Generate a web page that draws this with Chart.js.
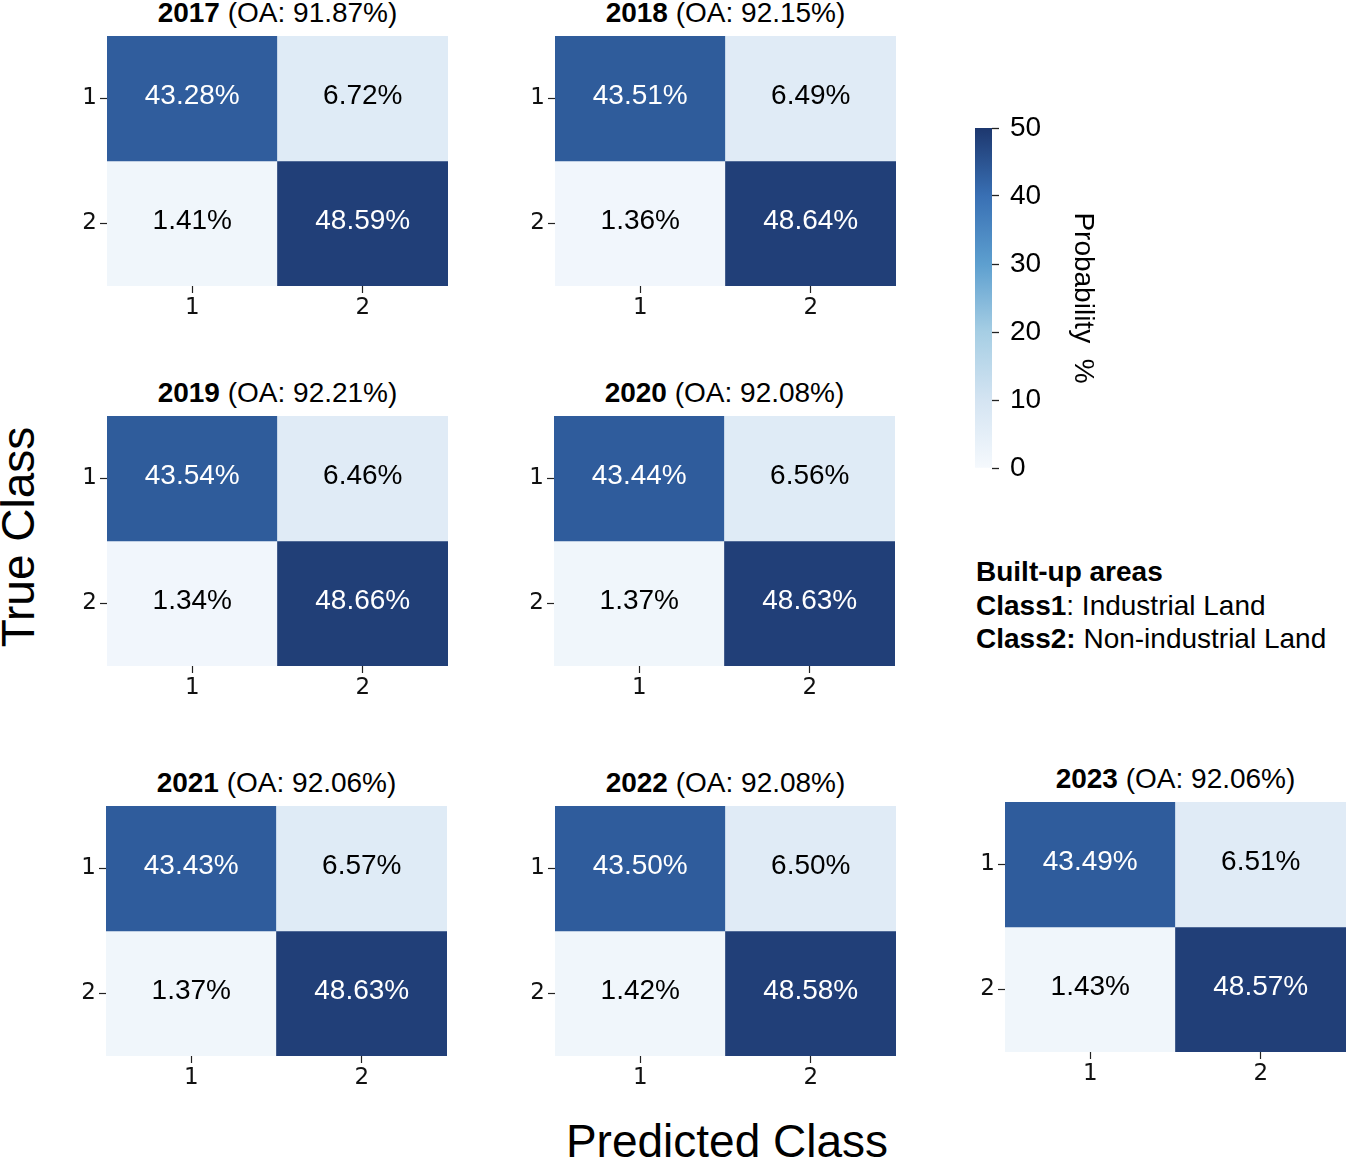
<!DOCTYPE html>
<html>
<head>
<meta charset="utf-8">
<title>Confusion matrices 2017-2023</title>
<script src="https://cdn.jsdelivr.net/npm/chart.js@4.4.0/dist/chart.umd.min.js"></script>
<style>
  body { margin: 0; background: #fff; }
  #page {
    position: relative; width: 1350px; height: 1161px; overflow: hidden;
    font-family: "Liberation Sans", Arial, sans-serif; color: #000;
  }
  .panel { position: absolute; }
  .title {
    position: absolute; width: 341px; text-align: center;
    font-size: 28px; line-height: 28px; white-space: nowrap;
  }
  .note {
    position: absolute; left: 976px; top: 555px;
    font-size: 28px; line-height: 33.5px; white-space: nowrap;
  }
  .axis-label {
    position: absolute; font-size: 46px; line-height: 50px; height: 50px;
    text-align: center; white-space: nowrap;
  }
</style>
</head>
<body>
<div id="page">
  <div class="note">
    <b>Built-up areas</b><br>
    <b>Class1</b>: Industrial Land<br>
    <b>Class2:</b> Non-industrial Land
  </div>
  <div class="axis-label" style="left:-132px; top:512px; width:300px; transform:rotate(-90deg);">True Class</div>
  <div class="axis-label" style="left:427px; top:1116px; width:600px;">Predicted Class</div>
</div>

<script>
// ── Data ──
const years = ['2017', '2018', '2019', '2020', '2021', '2022', '2023'];
const overallAcc = [91.87, 92.15, 92.21, 92.08, 92.06, 92.08, 92.06];
const classLabels = ['1', '2'];
// cell<true><predicted>, in %
const cell11 = [43.28, 43.51, 43.54, 43.44, 43.43, 43.50, 43.49];
const cell12 = [6.72, 6.49, 6.46, 6.56, 6.57, 6.50, 6.51];
const cell21 = [1.41, 1.36, 1.34, 1.37, 1.37, 1.42, 1.43];
const cell22 = [48.59, 48.64, 48.66, 48.63, 48.63, 48.58, 48.57];
const cbarTicks = [0, 10, 20, 30, 40, 50];

// ── Layout (top-left corner of each heatmap's cell area) ──
const panelPos = [[107, 36], [555, 36], [107, 416], [554, 416], [106, 806], [555, 806], [1005, 802]];
const CELL_W = 341, CELL_H = 250;
const AXIS_W = 45, AXIS_H = 45;
const FONT = '"Liberation Sans", Arial, sans-serif';
const TICK_FONT = '"DejaVu Sans", sans-serif';

// Blues-like colour map, 0..50
const cmapStops = [
  [0, [245, 249, 253]],
  [10, [212, 228, 242]],
  [20, [166, 206, 228]],
  [30, [93, 159, 207]],
  [40, [57, 112, 180]],
  [50, [29, 55, 110]]
];
function cmap(v) {
  for (let i = 1; i < cmapStops.length; i++) {
    const [v1, c1] = cmapStops[i];
    const [v0, c0] = cmapStops[i - 1];
    if (v <= v1 || i === cmapStops.length - 1) {
      const t = Math.max(0, Math.min(1, (v - v0) / (v1 - v0)));
      const c = c0.map((x, k) => Math.round(x + (c1[k] - x) * t));
      return `rgb(${c[0]},${c[1]},${c[2]})`;
    }
  }
}

// drop the half-label padding chart.js adds to vertical axes
function noPad(s) {
  s.paddingTop = 0;
  s.paddingBottom = 0;
}

const page = document.getElementById('page');

// ── Cell annotations ──
const cellText = {
  id: 'cellText',
  afterDatasetsDraw(chart) {
    const c = chart.ctx;
    c.save();
    c.font = '28px ' + FONT;
    c.textAlign = 'center';
    c.textBaseline = 'middle';
    chart.data.datasets.forEach((ds, di) => {
      chart.getDatasetMeta(di).data.forEach((bar, j) => {
        const v = ds.values[j];
        c.fillStyle = v > 25 ? '#fff' : '#000';
        c.fillText(v.toFixed(2) + '%', bar.x, (bar.y + bar.base) / 2 - 2);
      });
    });
    c.restore();
  }
};

function makeMatrix(i) {
  const [left, top] = panelPos[i];
  const rows = [[cell11[i], cell12[i]], [cell21[i], cell22[i]]];

  const title = document.createElement('div');
  title.className = 'title';
  title.style.left = left + 'px';
  title.style.top = (top - 37) + 'px';
  title.innerHTML = `<b>${years[i]}</b> (OA: ${overallAcc[i].toFixed(2)}%)`;
  page.appendChild(title);

  const canvas = document.createElement('canvas');
  canvas.className = 'panel';
  canvas.width = CELL_W + AXIS_W;
  canvas.height = CELL_H + AXIS_H;
  canvas.style.left = (left - AXIS_W) + 'px';
  canvas.style.top = top + 'px';
  page.appendChild(canvas);

  new Chart(canvas, {
    type: 'bar',
    data: {
      labels: classLabels,
      datasets: rows.map((vals, r) => ({
        data: vals.map(() => [r, r + 1]),
        values: vals,
        backgroundColor: vals.map(cmap),
        borderWidth: 0,
        grouped: false,
        barPercentage: 1,
        categoryPercentage: 1
      }))
    },
    options: {
      responsive: false,
      animation: false,
      devicePixelRatio: 1,
      layout: { padding: 0 },
      plugins: { legend: { display: false }, tooltip: { enabled: false } },
      scales: {
        x: {
          afterFit: s => { s.height = AXIS_H; s.paddingLeft = 0; s.paddingRight = 0; },
          grid: { offset: false, drawOnChartArea: false, tickLength: 7, tickColor: '#222', tickWidth: 1.2 },
          border: { display: false },
          ticks: { font: { family: TICK_FONT, size: 23 }, color: '#111', padding: 1 }
        },
        y: {
          min: 0, max: 2, reverse: true,
          afterBuildTicks: s => { s.ticks = classLabels.map((_, k) => ({ value: k + 0.5 })); },
          afterFit: s => { s.width = AXIS_W; noPad(s); },
          grid: { drawOnChartArea: false, tickLength: 7, tickColor: '#222', tickWidth: 1.2 },
          border: { display: false },
          ticks: {
            autoSkip: false,
            callback: v => classLabels[Math.floor(v)],
            font: { family: TICK_FONT, size: 23 }, color: '#111', padding: 3
          }
        }
      }
    },
    plugins: [cellText]
  });
}

years.forEach((_, i) => makeMatrix(i));

// ── Colour bar ──
const cb = document.createElement('canvas');
cb.className = 'panel';
cb.width = 125;
cb.height = 380;
cb.style.left = '975px';
cb.style.top = '108px';
page.appendChild(cb);

new Chart(cb, {
  type: 'bar',
  data: {
    labels: ['Probability'],
    datasets: [{
      data: [[cbarTicks[0], cbarTicks[cbarTicks.length - 1]]],
      backgroundColor: ctx => {
        const ys = ctx.chart.scales.y;
        if (!ctx.chart.chartArea || !ys) return cmap(25);
        const y0 = ys.getPixelForValue(cbarTicks[0]);
        const y1 = ys.getPixelForValue(cbarTicks[cbarTicks.length - 1]);
        const g = ctx.chart.ctx.createLinearGradient(0, y0, 0, y1);
        cmapStops.forEach(([v]) => g.addColorStop(v / 50, cmap(v)));
        return g;
      },
      borderWidth: 0,
      barPercentage: 1,
      categoryPercentage: 1
    }]
  },
  options: {
    responsive: false,
    animation: false,
    devicePixelRatio: 1,
    layout: { padding: { top: 20, bottom: 20, left: 0, right: 0 } },
    plugins: { legend: { display: false }, tooltip: { enabled: false } },
    scales: {
      x: { display: false },
      y: {
        position: 'right',
        min: cbarTicks[0], max: cbarTicks[cbarTicks.length - 1],
        afterBuildTicks: s => { s.ticks = cbarTicks.map(v => ({ value: v })); },
        afterFit: s => { s.width = 108; noPad(s); },
        grid: { drawOnChartArea: false, tickLength: 7, tickColor: '#222', tickWidth: 1.3 },
        border: { display: false },
        ticks: { font: { family: FONT, size: 28 }, color: '#000', padding: 11 },
        title: { display: true, text: 'Probability  %', font: { family: FONT, size: 28 }, color: '#000', padding: 0 }
      }
    }
  }
});
</script>
</body>
</html>
